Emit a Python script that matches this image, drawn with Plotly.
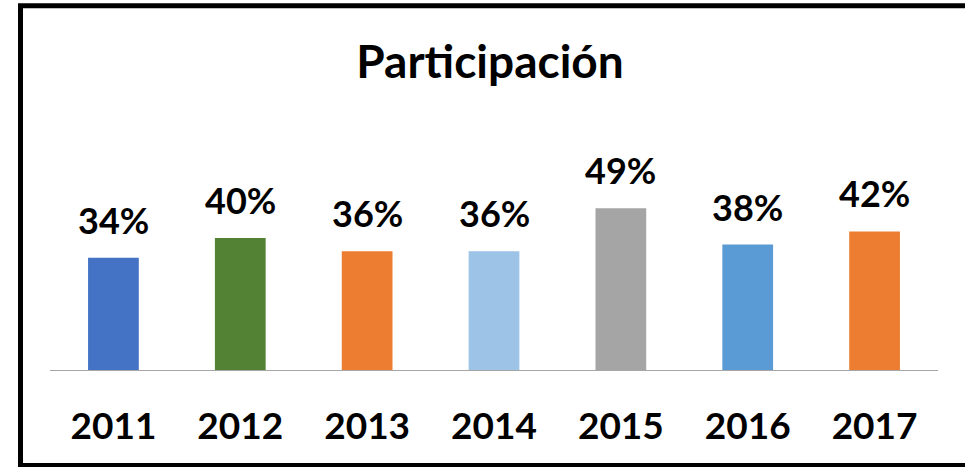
import plotly.graph_objects as go

years = ["2011", "2012", "2013", "2014", "2015", "2016", "2017"]
values = [0.34, 0.40, 0.36, 0.36, 0.49, 0.38, 0.42]
labels = ["34%", "40%", "36%", "36%", "49%", "38%", "42%"]
colors = ["#4472C4", "#548235", "#ED7D31", "#9DC3E6", "#A5A5A5", "#5B9BD5", "#ED7D31"]

W, H = 965, 467
ML, MR, MT, MB = 50, 27, 100, 97
plot_w = W - ML - MR
plot_h = H - MT - MB
ymax = plot_h / 330.0

fig = go.Figure()
fig.add_trace(go.Bar(x=years, y=values, marker=dict(color=colors, line=dict(width=0)),
                     hoverinfo="skip"))

font_family = "Lato, 'Open Sans', sans-serif"
for i, (v, lab) in enumerate(zip(values, labels)):
    fig.add_annotation(x=i, y=v, text=lab, showarrow=False,
                       yanchor="bottom", yshift=14,
                       font=dict(family=font_family, size=36, color="#000000", weight="bold"))

def px_to_paper_x(px):
    return (px - ML) / plot_w

def py_to_paper_y(py):
    return (H - MB - py) / plot_h

border = dict(color="#000000", width=5)
xl, xr = px_to_paper_x(20.5), px_to_paper_x(1000)
yt, yb = py_to_paper_y(5.8), py_to_paper_y(465.5)
fig.add_shape(type="line", xref="paper", yref="paper", x0=xl, x1=xl, y0=yb, y1=yt, line=border)
fig.add_shape(type="line", xref="paper", yref="paper", x0=px_to_paper_x(18), x1=xr, y0=yt, y1=yt, line=border)
fig.add_shape(type="line", xref="paper", yref="paper", x0=px_to_paper_x(18), x1=xr, y0=yb, y1=yb, line=border)

fig.update_layout(
    width=W, height=H,
    margin=dict(l=ML, r=MR, t=MT, b=MB, autoexpand=False),
    paper_bgcolor="white", plot_bgcolor="white",
    bargap=0.6,
    showlegend=False,
    title=dict(text="Participación", x=490 / W, xanchor="center",
               y=1 - 62 / H, yanchor="middle",
               font=dict(family=font_family, size=46, color="#000000", weight="bold")),
    xaxis=dict(type="category", range=[-0.5, len(years) - 0.5], showline=True,
               linecolor="#A6A6A6", linewidth=1, showgrid=False,
               ticks="", ticklabelstandoff=24,
               tickfont=dict(family=font_family, size=37, color="#000000", weight="bold")),
    yaxis=dict(range=[0, ymax], visible=False, showgrid=False, zeroline=False),
)

fig.write_html("out.html", config={"displayModeBar": False},
               post_script="document.body.style.margin='0';document.body.style.overflow='hidden';")
